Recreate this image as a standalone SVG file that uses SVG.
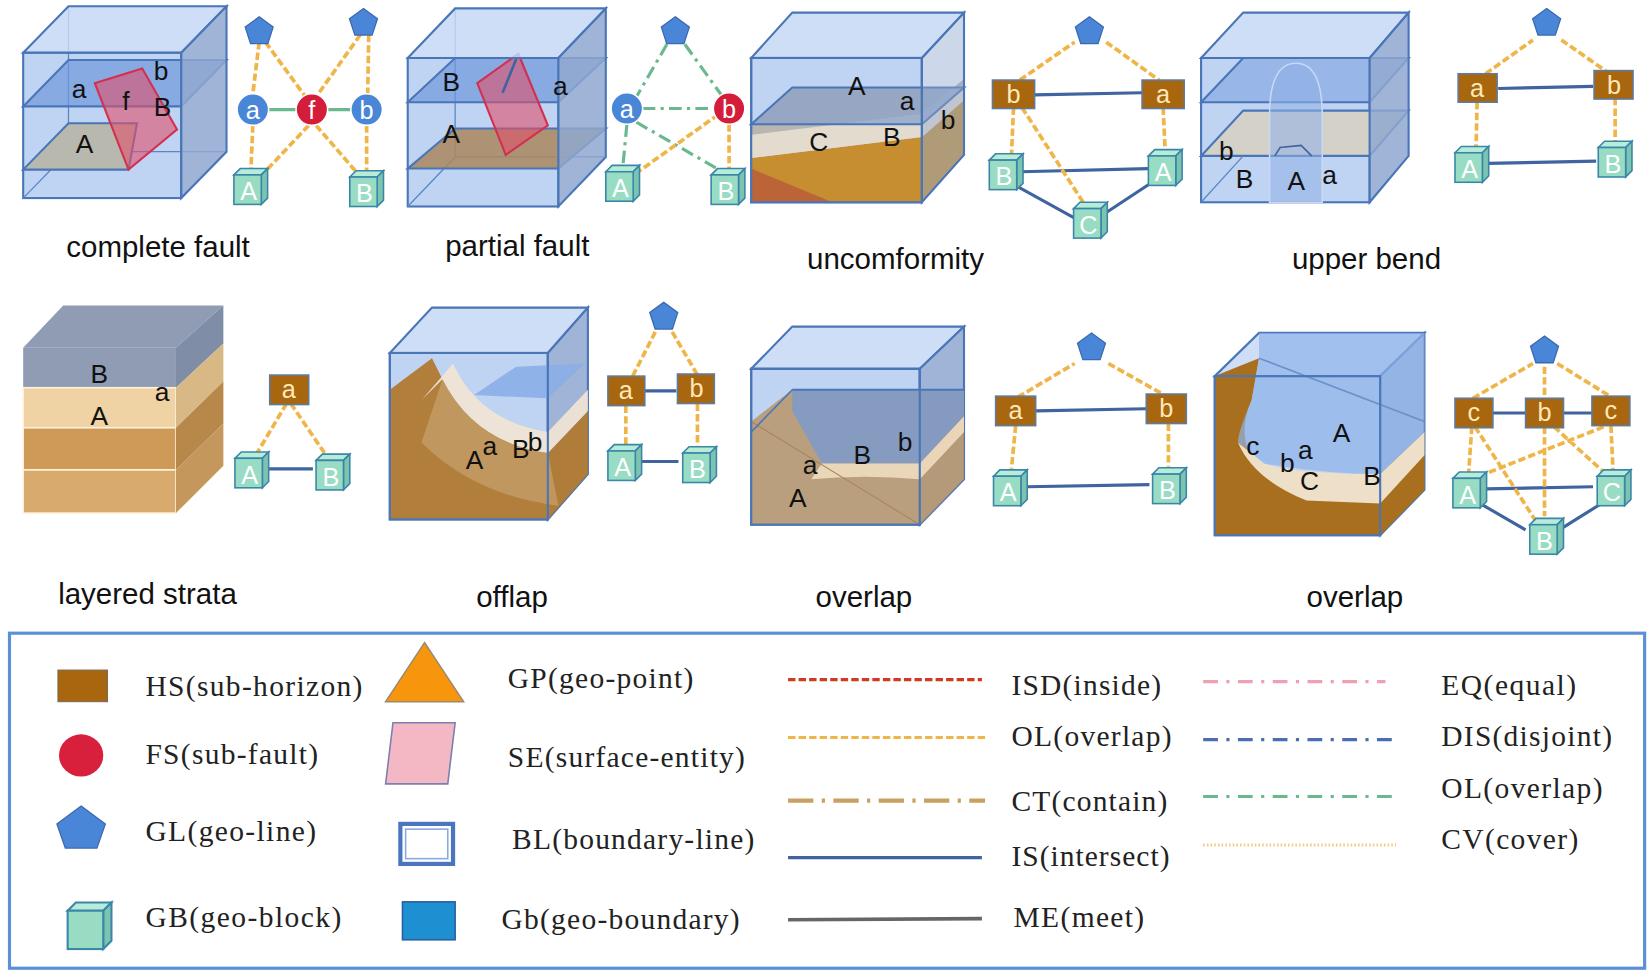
<svg xmlns="http://www.w3.org/2000/svg" xmlns:xlink="http://www.w3.org/1999/xlink" width="1652" height="978" viewBox="0 0 1652 978">
<style>
.cap{font-family:"Liberation Sans",Arial,sans-serif;font-size:28px;fill:#111;text-anchor:middle}
.lb{font-family:"Liberation Sans",Arial,sans-serif;font-size:25px;fill:#111}
.lg{font-family:"Liberation Serif","Times New Roman",serif;font-size:28px;fill:#222}
.nt{font-family:"Liberation Sans",Arial,sans-serif;font-size:24px;fill:#fff;text-anchor:middle}
.ht{font-family:"Liberation Sans",Arial,sans-serif;font-size:24px;fill:#ffe9b8;text-anchor:middle}
.cf{fill:#a9c4ee;fill-opacity:.75;stroke:#4a76b8;stroke-width:2}
.ct{fill:#c6d8f4;fill-opacity:.85;stroke:#4a76b8;stroke-width:2}
.cr{fill:#8ea7cf;fill-opacity:.85;stroke:#4a76b8;stroke-width:2}
.hid{fill:none;stroke:#5a86c8;stroke-width:1.2}
.ol{fill:none;stroke:#f0b548;stroke-width:3.5;stroke-dasharray:7 3}
.is{fill:none;stroke:#3f64a0;stroke-width:3}
.gr{fill:none;stroke:#6ab88e;stroke-width:3;stroke-dasharray:12 5 3 5}
.hs{fill:#a8660f;stroke:#5d7aa0;stroke-width:1.5}
.cir{fill:#4a86d8;stroke:#fff;stroke-width:1.5}
.red{fill:#d41d3a;stroke:#fff;stroke-width:1.5}
</style>
<defs>
<symbol id="gb" viewBox="-18 -20 38 40" width="38" height="40" overflow="visible">
<polygon points="-15,-12 -9,-18 17,-18 11,-12" fill="#b6ecd8" stroke="#3a86a8" stroke-width="1.5"/>
<polygon points="11,-12 17,-18 17,10 11,16" fill="#7cc4b0" stroke="#3a86a8" stroke-width="1.5"/>
<rect x="-15" y="-12" width="26" height="28" fill="#98dcc4" stroke="#3a86a8" stroke-width="1.5"/>
</symbol>
<symbol id="pent" viewBox="-15 -15 30 30" width="30" height="30" overflow="visible">
<polygon points="0,-14 13.3,-4.3 8.2,11.3 -8.2,11.3 -13.3,-4.3" fill="#4a86d8" stroke="#3b68b0" stroke-width="1.2"/>
</symbol>
</defs>
<rect width="1652" height="978" fill="#fff"/>
<g transform="scale(1.05357)">

<!-- Panel 1 complete fault -->
<g id="p1">
<rect class="cf" x="22" y="50" width="150" height="138"/>
<polyline class="hid" points="22,188 65,144 215,144"/><line class="hid" x1="65" y1="6" x2="65" y2="144"/>
<polygon points="22,101 65,57 215,57 172,101" fill="#6f98dc" fill-opacity=".7" stroke="#4a76b8" stroke-width="2"/>
<polygon points="22,161 65,117 130,117 122,161" fill="#b9b8ae" stroke="#4a76b8" stroke-width="2"/>
<polygon points="135,65 168,123 122,161 90,79" fill="#e0506a" fill-opacity=".6" stroke="#d33050" stroke-width="2"/>
<polygon class="ct" points="22,50 65,6 215,6 172,50"/>
<polygon class="cr" points="172,50 215,6 215,144 172,188"/>
<text class="lb" x="68" y="93">a</text><text class="lb" x="146" y="76">b</text><text class="lb" x="116" y="104">f</text><text class="lb" x="146" y="110">B</text><text class="lb" x="72" y="145">A</text>
</g>
<g id="g1">
<g id="c1">
<path class="ol" d="M246,40 L240,89 M252,40 L290,92 M342,33 L300,92 M350,33 L349,89 M240,119 L238,165 M293,119 L245,170 M300,119 L344,170 M348,119 L348,165"/>
<path d="M255,104 L281,104 M311,104 L333,104" stroke="#6ab88e" stroke-width="3"/>
</g>
<use href="#pent" x="231" y="15"/><use href="#pent" x="330" y="7"/>
<circle class="cir" cx="240" cy="104" r="15"/><text class="nt" x="240" y="113">a</text>
<circle class="red" cx="296" cy="104" r="15"/><text class="nt" x="296" y="113">f</text>
<circle class="cir" cx="348" cy="104" r="15"/><text class="nt" x="348" y="113">b</text>
<use href="#gb" x="219" y="158"/><text class="nt" x="236" y="190">A</text>
<use href="#gb" x="329" y="160"/><text class="nt" x="346" y="192">B</text>
</g>
<text class="cap" x="150" y="244">complete fault</text>

<!-- Panel 2 partial fault -->
<g id="p2">
<rect class="cf" x="387" y="55" width="143" height="141"/>
<polyline class="hid" points="387,196 432,149 575,149"/><line class="hid" x1="432" y1="8" x2="432" y2="149"/>
<polygon points="387,97 432,55 575,55 530,97" fill="#6f98dc" fill-opacity=".7" stroke="#4a76b8" stroke-width="2"/>
<polygon points="387,160 432,122 575,122 530,160" fill="#a9875e" fill-opacity=".85" stroke="#4a76b8" stroke-width="2"/>
<polygon points="492,51 520,119 480,147 453,79" fill="#e0506a" fill-opacity=".6" stroke="#d33050" stroke-width="2"/>
<line x1="490" y1="56" x2="477" y2="88" stroke="#3f64a0" stroke-width="2.5"/>
<polygon class="ct" points="387,55 432,8 575,8 530,55"/>
<polygon class="cr" points="530,55 575,8 575,149 530,196"/>
<text class="lb" x="420" y="86" fill="#3f64a0">B</text><text class="lb" x="525" y="90">a</text><text class="lb" x="420" y="136">A</text>
</g>
<g id="g2">
<g id="c2">
<path class="gr" d="M633,42 L604,92 M650,42 L686,92 M610,103 L677,103 M595,118 L591,160 M604,116 L684,162"/>
<path class="ol" d="M603,165 L680,110 M692,118 L692,160"/>
</g>
<use href="#pent" x="626" y="15"/>
<circle class="cir" cx="595" cy="103" r="15"/><text class="nt" x="595" y="112">a</text>
<circle class="red" cx="692" cy="103" r="15"/><text class="nt" x="692" y="112">b</text>
<use href="#gb" x="572" y="155"/><text class="nt" x="589" y="187">A</text>
<use href="#gb" x="672" y="158"/><text class="nt" x="689" y="190">B</text>
</g>
<text class="cap" x="491" y="243">partial fault</text>

<!-- Panel 3 uncomformity -->
<g id="p3">
<rect class="cf" x="713" y="55" width="162" height="137"/>
<polygon points="713,192 713,150 875,130 915,95 915,147 875,192" fill="#c8861c" fill-opacity=".9"/>
<polygon points="713,192 713,160 790,192" fill="#b85a3a" fill-opacity=".8"/>
<polygon points="713,150 713,128 875,108 915,75 915,95 875,130" fill="#e8dccb" fill-opacity=".9"/>
<polygon points="713,128 713,118 752,83 915,83 915,75 875,108" fill="#b8ae9e" fill-opacity=".8"/>
<polygon points="713,118 752,83 915,83 875,118" fill="#8fa4c8" fill-opacity=".8" stroke="#4a76b8" stroke-width="2"/>
<polygon class="ct" points="713,55 752,12 915,12 875,55"/>
<polygon points="875,55 915,12 915,147 875,192" fill="#8ea7cf" fill-opacity=".45" stroke="#4a76b8" stroke-width="2"/>
<rect x="713" y="55" width="162" height="137" fill="none" stroke="#4a76b8" stroke-width="2"/>
<text class="lb" x="805" y="90">A</text><text class="lb" x="854" y="104">a</text><text class="lb" x="893" y="122">b</text><text class="lb" x="768" y="143">C</text><text class="lb" x="838" y="139">B</text>
</g>
<g id="g3">
<g id="c3">
<path class="is" d="M982,90 L1084,88 M969,163 L1090,160 M962,175 L1020,207 M1045,205 L1095,172"/>
<path class="ol" d="M968,76 L1020,40 M1050,40 L1100,76 M970,102 L1030,195 M962,102 L960,148 M1104,102 L1106,145"/>
</g>
<use href="#pent" x="1019" y="15"/>
<rect class="hs" x="942" y="76" width="40" height="27"/><text class="ht" x="962" y="98">b</text>
<rect class="hs" x="1084" y="76" width="40" height="27"/><text class="ht" x="1104" y="98">a</text>
<use href="#gb" x="936" y="144"/><text class="nt" x="953" y="176">B</text>
<use href="#gb" x="1087" y="140"/><text class="nt" x="1104" y="172">A</text>
<use href="#gb" x="1016" y="190"/><text class="nt" x="1033" y="222">C</text>
</g>
<text class="cap" x="850" y="255">uncomformity</text>

<!-- Panel 4 upper bend -->
<g id="p4">
<rect class="cf" x="1140" y="55" width="160" height="137"/>
<polygon points="1140,148 1180,105 1337,105 1300,148" fill="#d6d0c4" fill-opacity=".9" stroke="#4a76b8" stroke-width="2"/>
<polygon points="1140,97 1180,55 1337,55 1300,97" fill="#7ea4e0" fill-opacity=".6" stroke="#4a76b8" stroke-width="2"/>
<path d="M1205,192 L1205,110 Q1205,60 1230,60 Q1255,60 1255,110 L1255,192 Z" fill="#8fb0e6" fill-opacity=".55" stroke="#c8d8f4" stroke-width="1.5"/>
<path d="M1210,148 L1215,140 L1235,138 L1245,148" fill="none" stroke="#3f64a0" stroke-width="1.5"/>
<polygon class="ct" points="1140,55 1180,12 1337,12 1300,55"/>
<polygon class="cr" points="1300,55 1337,12 1337,148 1300,192"/>
<line class="hid" x1="1140" y1="192" x2="1180" y2="148"/>
<text class="lb" x="1157" y="152">b</text><text class="lb" x="1173" y="178">B</text><text class="lb" x="1222" y="180">A</text><text class="lb" x="1255" y="175">a</text>
</g>
<g id="g4">
<g id="c4">
<path class="is" d="M1422,84 L1512,82 M1412,155 L1515,153"/>
<path class="ol" d="M1410,70 L1455,38 M1482,38 L1525,68 M1402,97 L1401,140 M1533,93 L1533,135"/>
</g>
<use href="#pent" x="1453" y="7"/>
<rect class="hs" x="1384" y="70" width="37" height="27"/><text class="ht" x="1402" y="92">a</text>
<rect class="hs" x="1513" y="67" width="37" height="27"/><text class="ht" x="1532" y="89">b</text>
<use href="#gb" x="1378" y="137"/><text class="nt" x="1395" y="169">A</text>
<use href="#gb" x="1514" y="132"/><text class="nt" x="1531" y="164">B</text>
</g>
<text class="cap" x="1297" y="255">upper bend</text>

<!-- Panel 5 layered strata -->
<g id="p5">
<polygon points="22,330 60,290 212,290 167,330" fill="#8f9cb4"/>
<rect x="22" y="330" width="145" height="38" fill="#8f9cb4"/>
<rect x="22" y="368" width="145" height="38" fill="#efd3a4" stroke="#fff3dc" stroke-width="1.5"/>
<rect x="22" y="406" width="145" height="40" fill="#cd9a58" stroke="#fff3dc" stroke-width="1.5"/>
<rect x="22" y="446" width="145" height="41" fill="#d9aa6e" stroke="#fff3dc" stroke-width="1.5"/>
<polygon points="167,330 212,290 212,326 167,368" fill="#7f8da6"/>
<polygon points="167,368 212,326 212,362 167,406" fill="#d8b986"/>
<polygon points="167,406 212,362 212,402 167,446" fill="#b8874a"/>
<polygon points="167,446 212,402 212,442 167,487" fill="#c4975c"/>
<text class="lb" x="86" y="364">B</text><text class="lb" x="147" y="381">a</text><text class="lb" x="86" y="403">A</text>
</g>
<g id="g5">
<g id="c5">
<path class="is" d="M255,445 L297,445"/>
<path class="ol" d="M272,383 L244,430 M276,383 L308,430"/>
</g>
<rect class="hs" x="256" y="356" width="37" height="28"/><text class="ht" x="274" y="378">a</text>
<use href="#gb" x="220" y="427"/><text class="nt" x="237" y="459">A</text>
<use href="#gb" x="297" y="429"/><text class="nt" x="314" y="461">B</text>
</g>
<text class="cap" x="140" y="573">layered strata</text>

<!-- Panel 6 offlap -->
<g id="p6">
<rect class="cf" x="370" y="335" width="150" height="158"/>
<polygon class="ct" points="370,335 410,292 558,292 520,335"/>
<polygon class="cr" points="520,335 558,292 558,450 520,493"/>
<path d="M370,370 L410,340 L420,360 Q450,420 520,430 L558,390 L558,450 L520,493 L370,493 Z" fill="#b07a30" fill-opacity=".95"/>
<path d="M400,380 L420,360 Q450,420 520,430 L558,390 L558,370 L520,410 Q455,400 430,345 Z" fill="#f2e6d4" fill-opacity=".9"/>
<path d="M450,375 L520,378 L555,345 L490,348 Z" fill="#8aaee8" fill-opacity=".9"/>
<path d="M420,360 Q450,420 520,430 L530,480 Q450,470 400,420 Z" fill="#c9a878" fill-opacity=".6"/>
<rect x="370" y="335" width="150" height="158" fill="none" stroke="#4a76b8" stroke-width="2"/>
<text class="lb" x="442" y="445">A</text><text class="lb" x="458" y="432">a</text><text class="lb" x="486" y="435">B</text><text class="lb" x="501" y="428">b</text>
</g>
<g id="g6">
<g id="c6">
<path class="is" d="M612,371 L642,371 M609,438 L644,438"/>
<path class="ol" d="M622,315 L600,358 M638,315 L662,356 M594,385 L594,423 M662,383 L662,425"/>
</g>
<use href="#pent" x="615" y="286"/>
<rect class="hs" x="577" y="357" width="35" height="28"/><text class="ht" x="594" y="379">a</text>
<rect class="hs" x="643" y="355" width="35" height="28"/><text class="ht" x="661" y="377">b</text>
<use href="#gb" x="574" y="420"/><text class="nt" x="591" y="452">A</text>
<use href="#gb" x="645" y="422"/><text class="nt" x="662" y="454">B</text>
</g>
<text class="cap" x="486" y="576">offlap</text>

<!-- Panel 7 overlap -->
<g id="p7">
<rect class="cf" x="713" y="350" width="160" height="148"/>
<polygon class="ct" points="713,350 752,310 915,310 873,350"/>
<polygon class="cr" points="873,350 915,310 915,455 873,498"/>
<path d="M713,400 L752,370 L915,370 L915,455 L873,498 L713,498 Z" fill="#b8956a" fill-opacity=".85"/>
<path d="M752,370 L915,370 L915,395 L873,440 L780,440 L752,390 Z" fill="#7f9ac8" fill-opacity=".9"/>
<path d="M780,440 L873,440 L915,395 L915,410 L873,455 Q820,450 770,455 Z" fill="#efdcc0" fill-opacity=".9"/>
<line x1="713" y1="400" x2="873" y2="498" stroke="#a8865a" stroke-width="1"/>
<line x1="752" y1="370" x2="915" y2="370" stroke="#4a76b8" stroke-width="2"/>
<line x1="713" y1="410" x2="752" y2="370" stroke="#4a76b8" stroke-width="1.5"/>
<rect x="713" y="350" width="160" height="148" fill="none" stroke="#4a76b8" stroke-width="2"/>
<text class="lb" x="762" y="450">a</text><text class="lb" x="810" y="440">B</text><text class="lb" x="852" y="428">b</text><text class="lb" x="749" y="481">A</text>
</g>
<g id="g7">
<g id="c7">
<path class="is" d="M983,390 L1088,388 M975,462 L1091,460"/>
<path class="ol" d="M966,377 L1020,345 M1052,345 L1107,376 M964,404 L960,445 M1109,402 L1109,443"/>
</g>
<use href="#pent" x="1021" y="315"/>
<rect class="hs" x="945" y="376" width="38" height="28"/><text class="ht" x="964" y="398">a</text>
<rect class="hs" x="1088" y="374" width="38" height="28"/><text class="ht" x="1107" y="396">b</text>
<use href="#gb" x="940" y="444"/><text class="nt" x="957" y="476">A</text>
<use href="#gb" x="1091" y="442"/><text class="nt" x="1108" y="474">B</text>
</g>
<text class="cap" x="820" y="576">overlap</text>

<!-- Panel 8 overlap -->
<g id="p8">
<rect class="cf" x="1153" y="357" width="157" height="151"/>
<polygon class="ct" points="1153,357 1195,316 1352,316 1310,357"/>
<polygon class="cr" points="1310,357 1352,316 1352,465 1310,508"/>
<path d="M1153,357 L1153,508 L1310,508 L1352,465 L1352,410 L1310,450 Q1240,470 1200,450 Q1170,420 1188,380 L1195,340 Z" fill="#a8701e"/>
<path d="M1175,420 Q1190,455 1240,475 L1310,478 L1352,432 L1352,410 L1310,450 Q1230,450 1200,440 Z" fill="#eedfc8"/>
<path d="M1195,340 L1188,380 Q1175,410 1175,420 L1200,440 Q1260,450 1310,450 L1352,410 L1352,316 L1195,316 Z" fill="#8fb4ea" fill-opacity=".7"/>
<line x1="1195" y1="340" x2="1352" y2="400" stroke="#6b8fc8" stroke-width="1.5"/>
<rect x="1153" y="357" width="157" height="151" fill="none" stroke="#4a76b8" stroke-width="2"/>
<text class="lb" x="1183" y="432">c</text><text class="lb" x="1215" y="448">b</text><text class="lb" x="1232" y="436">a</text><text class="lb" x="1234" y="465">C</text><text class="lb" x="1265" y="420">A</text><text class="lb" x="1294" y="460">B</text>
</g>
<g id="g8">
<g id="c8">
<path class="is" d="M1417,392 L1448,392 M1484,392 L1511,392 M1410,464 L1512,462 M1405,478 L1448,503 M1480,503 L1523,476"/>
<path class="ol" d="M1398,378 L1455,345 M1466,348 L1466,378 M1478,345 L1528,376 M1397,405 L1394,448 M1400,405 L1458,495 M1466,405 L1466,490 M1475,405 L1522,448 M1529,404 L1531,446 M1404,452 L1525,404"/>
</g>
<use href="#pent" x="1451" y="318"/>
<rect class="hs" x="1381" y="378" width="36" height="28"/><text class="ht" x="1399" y="400">c</text>
<rect class="hs" x="1448" y="378" width="36" height="28"/><text class="ht" x="1466" y="400">b</text>
<rect class="hs" x="1511" y="376" width="36" height="28"/><text class="ht" x="1529" y="398">c</text>
<use href="#gb" x="1376" y="446"/><text class="nt" x="1393" y="478">A</text>
<use href="#gb" x="1513" y="444"/><text class="nt" x="1530" y="476">C</text>
<use href="#gb" x="1449" y="490"/><text class="nt" x="1466" y="522">B</text>
</g>
<text class="cap" x="1286" y="576">overlap</text>

<!-- Legend -->
<g id="legend">
<rect x="9" y="601" width="1552" height="318" fill="none" stroke="#5b8fd6" stroke-width="3"/>
<rect x="55" y="636" width="47" height="30" fill="#a8660f" stroke="#7a6a58" stroke-width="1"/>
<text class="lg" x="138" y="661" textLength="206">HS(sub-horizon)</text>
<polygon points="403,610 440,666 366,666" fill="#f7960d" stroke="#9a8a70" stroke-width="1.5"/>
<text class="lg" x="482" y="653" textLength="176">GP(geo-point)</text>
<line x1="748" y1="645" x2="932" y2="645" stroke="#d03a20" stroke-width="3" stroke-dasharray="7 3"/>
<text class="lg" x="960" y="660" textLength="142">ISD(inside)</text>
<line x1="1142" y1="647" x2="1315" y2="647" stroke="#f0a0b0" stroke-width="3" stroke-dasharray="14 8 3 8"/>
<text class="lg" x="1368" y="660" textLength="128">EQ(equal)</text>

<ellipse cx="77" cy="717" rx="21" ry="20" fill="#d81f3c"/>
<text class="lg" x="138" y="725" textLength="164">FS(sub-fault)</text>
<polygon points="373,686 432,686 425,744 366,744" fill="#f4b8c4" stroke="#7a80b0" stroke-width="1.5"/>
<text class="lg" x="482" y="728" textLength="225">SE(surface-entity)</text>
<line x1="748" y1="700" x2="935" y2="700" stroke="#f0b548" stroke-width="3" stroke-dasharray="7 3"/>
<text class="lg" x="960" y="708" textLength="152">OL(overlap)</text>
<line x1="1142" y1="702" x2="1325" y2="702" stroke="#4a6eb0" stroke-width="3" stroke-dasharray="14 8 3 8"/>
<text class="lg" x="1368" y="708" textLength="162">DIS(disjoint)</text>

<polygon points="77,765 100,782 92,805 62,805 54,782" fill="#4a86d8" stroke="#3b68b0" stroke-width="1.2"/>
<text class="lg" x="138" y="798" textLength="162">GL(geo-line)</text>
<rect x="380" y="782" width="50" height="38" fill="#fff" stroke="#4a76c0" stroke-width="4"/>
<rect x="385" y="787" width="40" height="28" fill="none" stroke="#8aa8e0" stroke-width="1.5"/>
<text class="lg" x="486" y="806" textLength="230">BL(boundary-line)</text>
<line x1="748" y1="760" x2="935" y2="760" stroke="#c8a060" stroke-width="4" stroke-dasharray="24 8 3 8"/>
<text class="lg" x="960" y="770" textLength="148">CT(contain)</text>
<line x1="1142" y1="756" x2="1325" y2="756" stroke="#6ab88e" stroke-width="3" stroke-dasharray="14 8 3 8"/>
<text class="lg" x="1368" y="757" textLength="153">OL(overlap)</text>

<line x1="748" y1="814" x2="932" y2="814" stroke="#3f64a0" stroke-width="3"/>
<text class="lg" x="960" y="822" textLength="150">IS(intersect)</text>
<line x1="1142" y1="802" x2="1325" y2="802" stroke="#f4cc80" stroke-width="3" stroke-dasharray="1.5 2"/>
<text class="lg" x="1368" y="806" textLength="130">CV(cover)</text>

<use href="#gb" x="60" y="854" width="50" height="52"/>
<text class="lg" x="138" y="880" textLength="186">GB(geo-block)</text>
<rect x="382" y="856" width="50" height="36" fill="#1e8fd1" stroke="#2a60a0" stroke-width="1.5"/>
<text class="lg" x="476" y="882" textLength="226">Gb(geo-boundary)</text>
<line x1="748" y1="873" x2="932" y2="872" stroke="#666" stroke-width="3.5"/>
<text class="lg" x="962" y="880" textLength="124">ME(meet)</text>
</g>
</g>
</svg>
